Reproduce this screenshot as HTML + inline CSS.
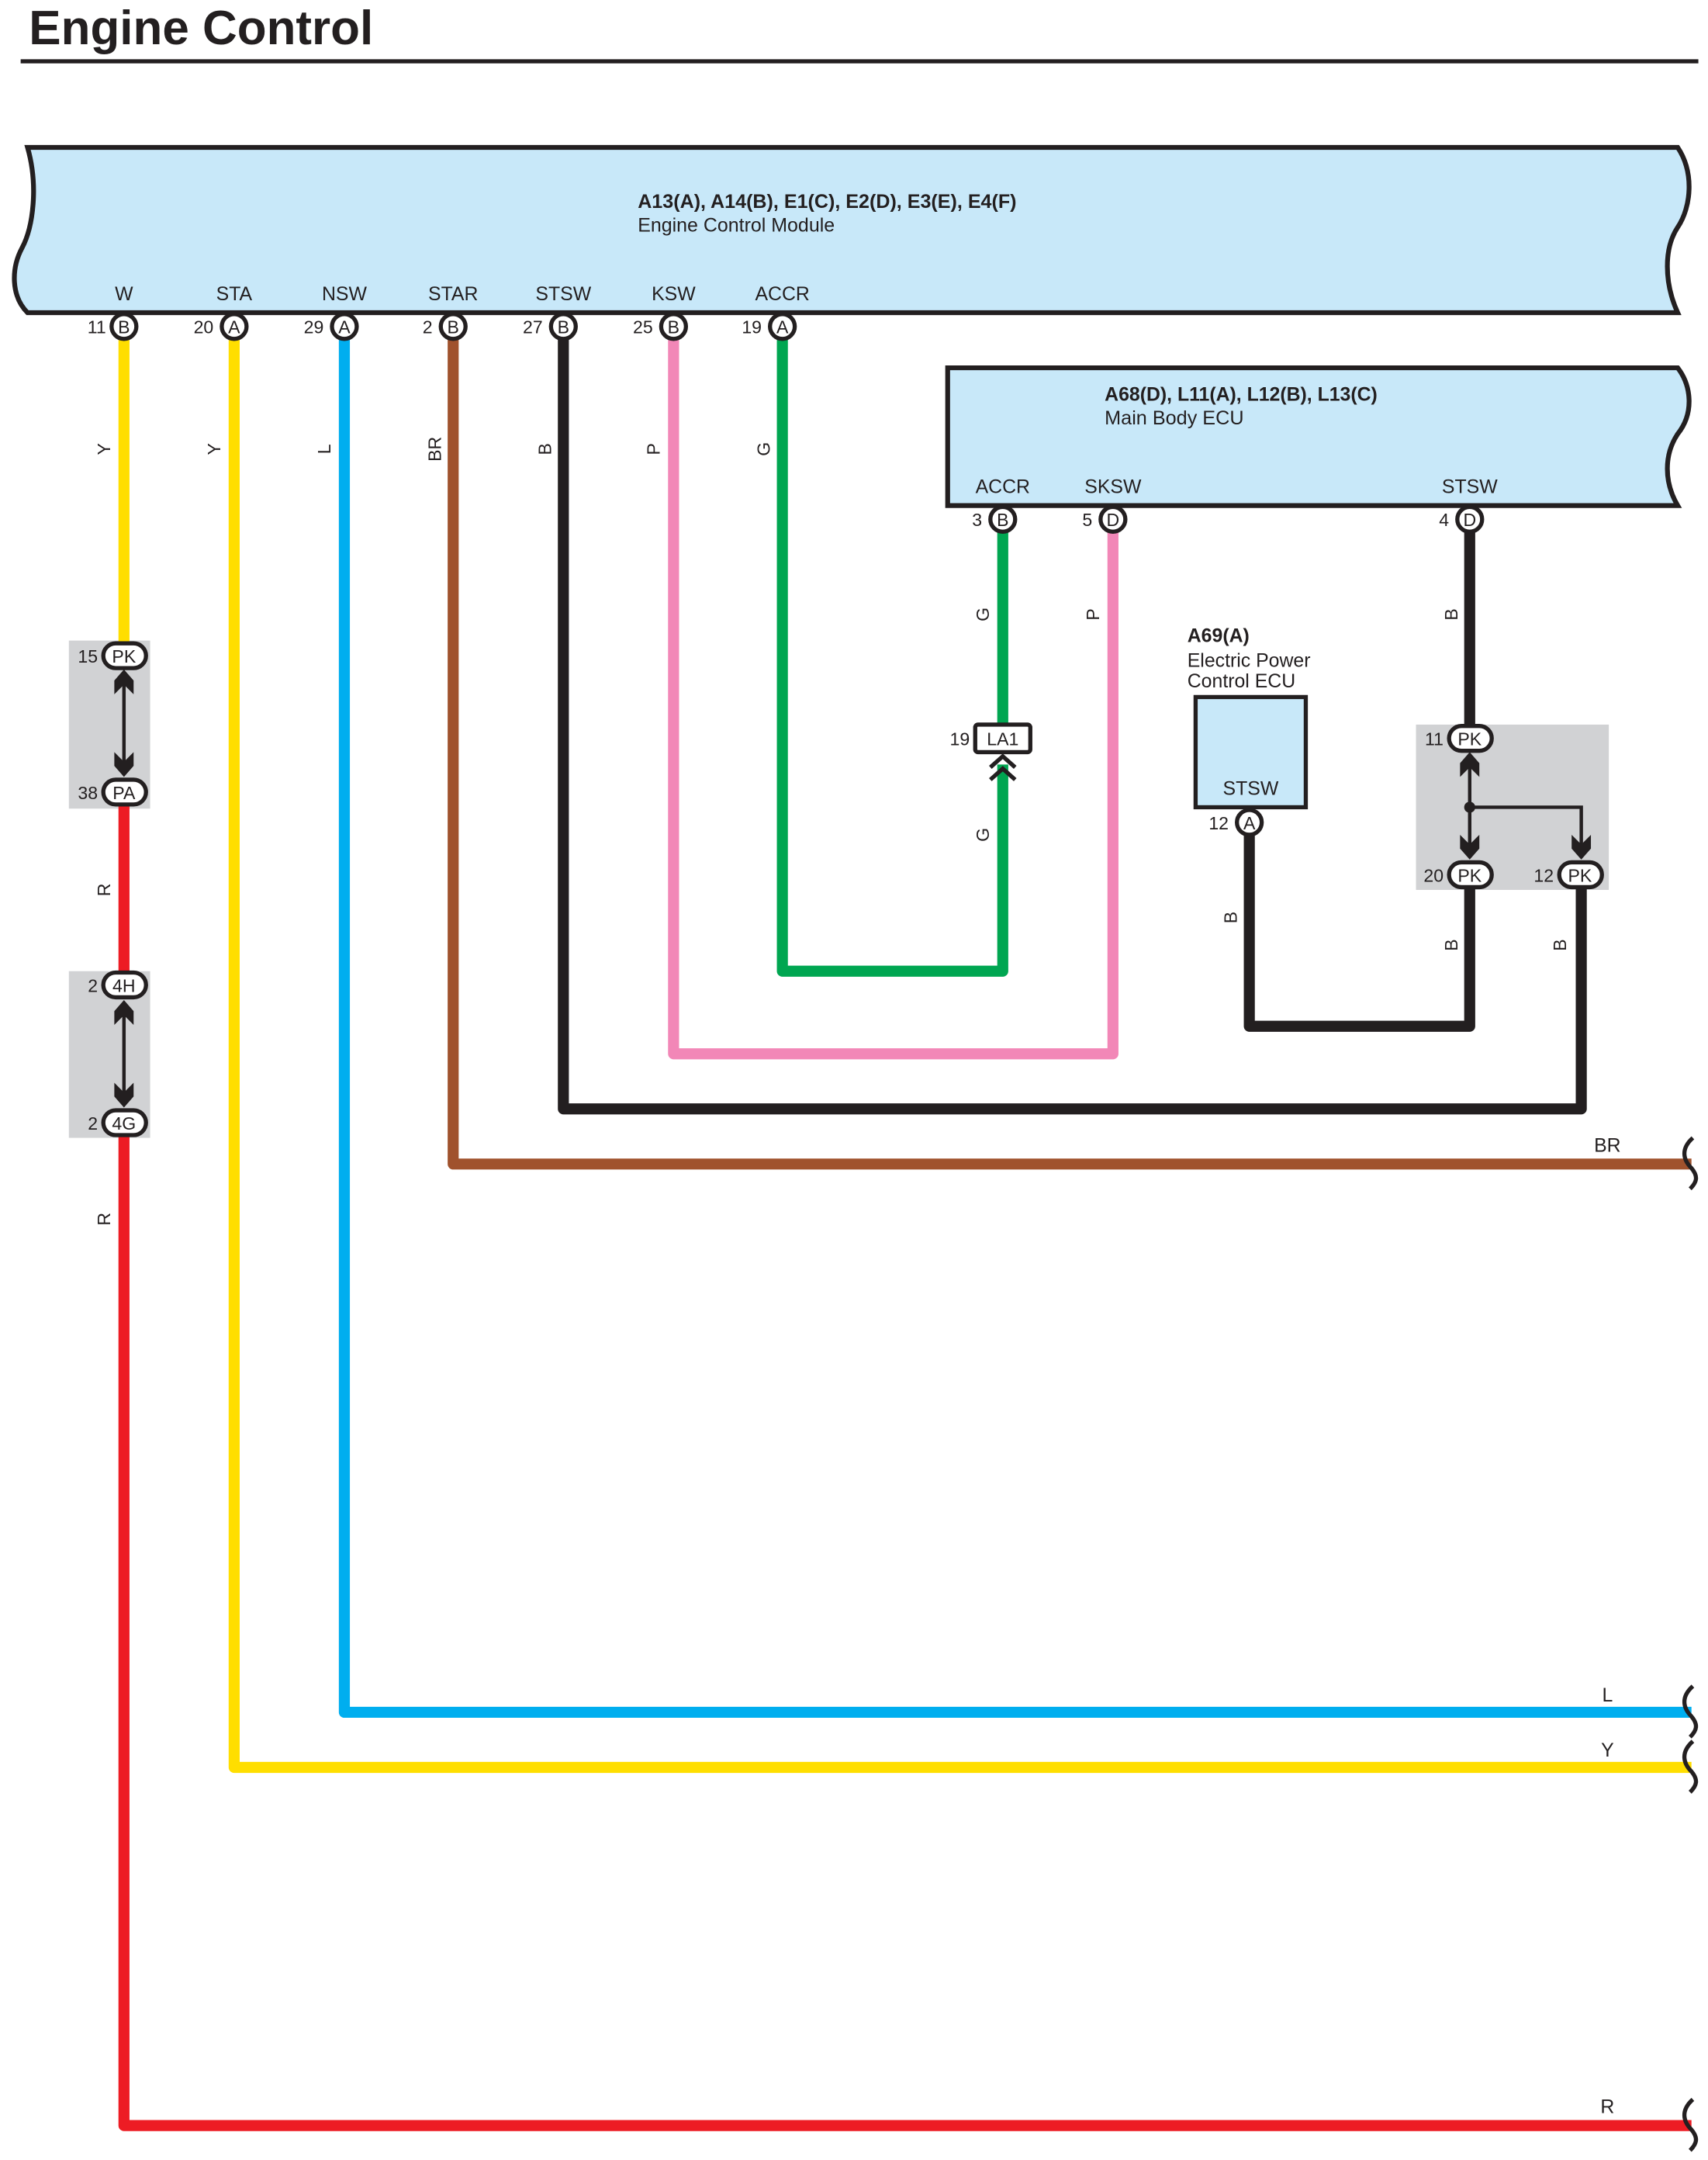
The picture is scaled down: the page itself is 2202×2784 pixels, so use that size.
<!DOCTYPE html>
<html><head><meta charset="utf-8"><style>
html,body{margin:0;padding:0;background:#fff}
svg{display:block}
text{font-family:"Liberation Sans",sans-serif;fill:#231f20}
</style></head><body>
<svg width="2202" height="2784" viewBox="0 0 1240 1568" preserveAspectRatio="none" xmlns="http://www.w3.org/2000/svg">
<defs>
<path id="arU" d="M0,0 L7,8 L7,18 L0,11 L-7,18 L-7,8 Z" fill="#231f20"/>
<path id="arD" d="M0,0 L7,-8 L7,-18 L0,-11 L-7,-18 L-7,-8 Z" fill="#231f20"/>
</defs>
<text x="21" y="32" font-size="35" font-weight="bold" textLength="250" lengthAdjust="spacingAndGlyphs">Engine Control</text>
<rect x="15" y="43" width="1218" height="3" fill="#231f20"/>

<!-- ECM -->
<path d="M20,107 L1218,107 C1230,125 1228,150 1218,165 C1208,180 1208,205 1218,227 L20,227 C8,215 8,195 16,180 C24,165 28,135 20,107 Z" fill="#c8e8f9" stroke="#231f20" stroke-width="3.5"/>
<text x="463" y="151" font-size="14" font-weight="bold" textLength="275" lengthAdjust="spacingAndGlyphs">A13(A), A14(B), E1(C), E2(D), E3(E), E4(F)</text>
<text x="463" y="168" font-size="14" textLength="143" lengthAdjust="spacingAndGlyphs">Engine Control Module</text>
<g font-size="14" text-anchor="middle">
<text x="90" y="218">W</text><text x="170" y="218">STA</text><text x="250" y="218">NSW</text><text x="329" y="218">STAR</text><text x="409" y="218">STSW</text><text x="489" y="218">KSW</text><text x="568" y="218">ACCR</text>
</g>

<!-- Main body ECU -->
<path d="M688,267 L1218,267 C1228,280 1230,300 1218,315 C1208,330 1208,350 1218,367 L688,367 Z" fill="#c8e8f9" stroke="#231f20" stroke-width="3.5"/>
<text x="802" y="291" font-size="14" font-weight="bold" textLength="198" lengthAdjust="spacingAndGlyphs">A68(D), L11(A), L12(B), L13(C)</text>
<text x="802" y="308" font-size="14" textLength="101" lengthAdjust="spacingAndGlyphs">Main Body ECU</text>
<g font-size="14" text-anchor="middle">
<text x="728" y="358">ACCR</text><text x="808" y="358">SKSW</text><text x="1067" y="358">STSW</text>
</g>

<!-- A69 -->
<text x="862" y="466" font-size="14" font-weight="bold">A69(A)</text>
<text x="862" y="484" font-size="14">Electric Power</text>
<text x="862" y="499" font-size="14">Control ECU</text>
<rect x="868" y="506" width="80" height="80" fill="#c8e8f9" stroke="#231f20" stroke-width="3"/>
<text x="908" y="577" font-size="14" text-anchor="middle">STSW</text>

<!-- gray junction boxes -->
<rect x="50" y="465" width="59" height="122" fill="#d1d2d4"/>
<rect x="50" y="705" width="59" height="121" fill="#d1d2d4"/>
<rect x="1028" y="526" width="140" height="120" fill="#d1d2d4"/>

<!-- wires -->
<g fill="none" stroke-width="8" stroke-linejoin="round">
<path d="M90,246 V467" stroke="#ffde00"/>
<path d="M90,584 V706" stroke="#ed1c24"/>
<path d="M90,824 V1543 H1228" stroke="#ed1c24"/>
<path d="M170,246 V1283 H1228" stroke="#ffde00"/>
<path d="M250,246 V1243 H1228" stroke="#00aeef"/>
<path d="M329,246 V845 H1228" stroke="#a0522d" />
<path d="M409,246 V805 H1148 V644" stroke="#231f20"/>
<path d="M489,246 V765 H808 V386" stroke="#f287b7"/>
<path d="M568,246 V705 H728 V555" stroke="#00a651"/>
<path d="M728,386 V526" stroke="#00a651"/>
<path d="M1067,386 V527" stroke="#231f20"/>
<path d="M907,606 V745 H1067 V644" stroke="#231f20"/>
</g>

<!-- right-end squiggles -->
<g fill="none" stroke="#231f20" stroke-width="3">
<path d="M1229,826 C1220,834 1222,842 1228,848 C1233,854 1232,858 1227,863"/>
<path d="M1229,1224 C1220,1232 1222,1240 1228,1246 C1233,1252 1232,1256 1227,1261"/>
<path d="M1229,1264 C1220,1272 1222,1280 1228,1286 C1233,1292 1232,1296 1227,1301"/>
<path d="M1229,1524 C1220,1532 1222,1540 1228,1546 C1233,1552 1232,1556 1227,1561"/>
</g>
<g font-size="14" text-anchor="middle">
<text x="1167" y="836">BR</text><text x="1167" y="1235">L</text><text x="1167" y="1275">Y</text><text x="1167" y="1534">R</text>
</g>

<!-- wire color labels rotated -->
<g font-size="13" text-anchor="middle">
<text transform="translate(80,326) rotate(-90)">Y</text>
<text transform="translate(160,326) rotate(-90)">Y</text>
<text transform="translate(240,326) rotate(-90)">L</text>
<text transform="translate(320,326) rotate(-90)">BR</text>
<text transform="translate(400,326) rotate(-90)">B</text>
<text transform="translate(479,326) rotate(-90)">P</text>
<text transform="translate(559,326) rotate(-90)">G</text>
<text transform="translate(80,646) rotate(-90)">R</text>
<text transform="translate(80,885) rotate(-90)">R</text>
<text transform="translate(718,446) rotate(-90)">G</text>
<text transform="translate(718,606) rotate(-90)">G</text>
<text transform="translate(798,446) rotate(-90)">P</text>
<text transform="translate(1058,446) rotate(-90)">B</text>
<text transform="translate(898,666) rotate(-90)">B</text>
<text transform="translate(1058,686) rotate(-90)">B</text>
<text transform="translate(1137,686) rotate(-90)">B</text>
</g>

<!-- round connectors -->
<g stroke="#231f20" stroke-width="3" fill="#fff">
<circle cx="90" cy="237" r="9"/><circle cx="170" cy="237" r="9"/><circle cx="250" cy="237" r="9"/><circle cx="329" cy="237" r="9"/><circle cx="409" cy="237" r="9"/><circle cx="489" cy="237" r="9"/><circle cx="568" cy="237" r="9"/>
<circle cx="728" cy="377" r="9"/><circle cx="808" cy="377" r="9"/><circle cx="1067" cy="377" r="9"/>
<circle cx="907" cy="597" r="9"/>
<rect x="75" y="467" width="31" height="18" rx="9"/>
<rect x="75" y="566" width="31" height="18" rx="9"/>
<rect x="75" y="706" width="31" height="18" rx="9"/>
<rect x="75" y="806" width="31" height="18" rx="9"/>
<rect x="1052" y="527" width="31" height="18" rx="9"/>
<rect x="1052" y="626" width="31" height="18" rx="9"/>
<rect x="1132" y="626" width="31" height="18" rx="9"/>
<rect x="708" y="526" width="40" height="20" rx="2"/>
</g>
<g font-size="13" text-anchor="middle">
<text x="90" y="242">B</text><text x="170" y="242">A</text><text x="250" y="242">A</text><text x="329" y="242">B</text><text x="409" y="242">B</text><text x="489" y="242">B</text><text x="568" y="242">A</text>
<text x="728" y="382">B</text><text x="808" y="382">D</text><text x="1067" y="382">D</text><text x="907" y="602">A</text>
<text x="90" y="481">PK</text><text x="90" y="580">PA</text><text x="90" y="720">4H</text><text x="90" y="820">4G</text>
<text x="1067" y="541">PK</text><text x="1067" y="640">PK</text><text x="1147" y="640">PK</text>
<text x="728" y="541">LA1</text>
</g>
<g font-size="13" text-anchor="end">
<text x="77" y="242">11</text><text x="155" y="242">20</text><text x="235" y="242">29</text><text x="314" y="242">2</text><text x="394" y="242">27</text><text x="474" y="242">25</text><text x="553" y="242">19</text>
<text x="713" y="382">3</text><text x="793" y="382">5</text><text x="1052" y="382">4</text><text x="892" y="602">12</text>
<text x="71" y="481">15</text><text x="71" y="580">38</text><text x="71" y="720">2</text><text x="71" y="820">2</text>
<text x="1048" y="541">11</text><text x="1048" y="640">20</text><text x="1128" y="640">12</text>
<text x="704" y="541">19</text>
</g>

<!-- junction arrows -->
<g stroke="#231f20" stroke-width="2.5" fill="none">
<path d="M90,490 V560"/><path d="M90,730 V800"/>
<path d="M1067,550 V620"/><path d="M1067,586 H1148 V620"/>
</g>
<use href="#arU" x="90" y="486"/><use href="#arD" x="90" y="564"/>
<use href="#arU" x="90" y="726"/><use href="#arD" x="90" y="804"/>
<use href="#arU" x="1067" y="546"/><use href="#arD" x="1067" y="624"/><use href="#arD" x="1148" y="624"/>
<circle cx="1067" cy="586" r="4" fill="#231f20"/>
<!-- LA1 chevrons -->
<g stroke="#231f20" stroke-width="3" fill="none">
<path d="M719,557 L728,549 L737,557"/><path d="M719,566 L728,558 L737,566"/>
</g>
</svg>
</body></html>
